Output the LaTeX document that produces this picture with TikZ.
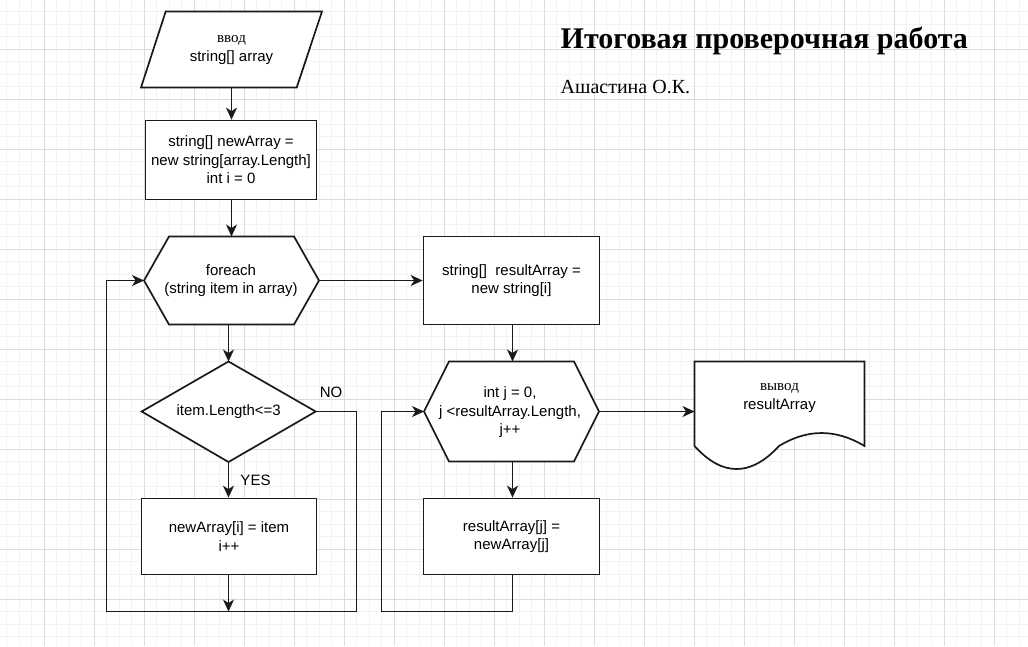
\documentclass[tikz,border=0pt]{standalone}
\usepackage{fontspec}
\setmainfont{Liberation Serif}
\newfontfamily\arialf{Liberation Sans}
\usetikzlibrary{arrows.meta}
\definecolor{gridminor}{HTML}{F2F2F2}
\definecolor{gridmajor}{HTML}{DCDCDC}
\definecolor{strokec}{HTML}{1A1A1A}
\begin{document}
\begin{tikzpicture}[x=1pt,y=-1pt,
  shapeline/.style={draw=strokec, line width=1.7pt, fill=white},
  box/.style={shapeline, rectangle, inner sep=0pt, align=center, font=\arialf\fontsize{15}{18.5}\selectfont},
  txt/.style={inner sep=0pt, align=center, font=\arialf\fontsize{15}{18.5}\selectfont},
  conn/.style={draw=strokec, line width=1.6pt, -{Stealth[length=12pt,width=11pt,inset=3.5pt]}},
  plainline/.style={draw=strokec, line width=1.6pt}]
\useasboundingbox (0,0) rectangle (1028,646);
\fill[white] (0,0) rectangle (1028,646);
% grid
\foreach \k in {0,...,82} {\draw[gridminor, line width=1pt] ({6.7+12.5*\k},0) -- ({6.7+12.5*\k},646);}
\foreach \k in {0,...,51} {\draw[gridminor, line width=1pt] (0,{11.8+12.5*\k}) -- (1028,{11.8+12.5*\k});}
\foreach \k in {0,...,20} {\draw[gridmajor, line width=1pt] ({44.3+50*\k},0) -- ({44.3+50*\k},646);}
\foreach \k in {0,...,12} {\draw[gridmajor, line width=1pt] (0,{-0.7+50*\k}) -- (1028,{-0.7+50*\k});}

% input parallelogram
\draw[shapeline] (165.7,11.5) -- (322,11.5) -- (296.7,87.5) -- (141,87.5) -- cycle;
\coordinate (pinS) at (231.5,87.5);
\node[txt] (pintxt) at (231.5,50) {{\rmfamily\fontsize{15}{18.5}\selectfont ввод}\\ string[] array};

% rect 1
\node[box, minimum width=171pt, minimum height=79pt] (r1) at (231,160) {string[] newArray =\\new string[array.Length]\\int i = 0};

% hexagon 1
\draw[shapeline] (144,280.5) -- (169,236.5) -- (294,236.5) -- (319,280.5) -- (294,324.5) -- (169,324.5) -- cycle;
\coordinate (h1N) at (231.5,236.5);
\coordinate (h1S) at (228.5,324.5);
\coordinate (h1W) at (144,280.5);
\coordinate (h1E) at (319,280.5);
\node[txt] (h1txt) at (231,280.5) {foreach\\(string item in array)};

% rect 2
\node[box, minimum width=176pt, minimum height=88pt] (r2) at (511.5,280.5) {string[]\ \ resultArray =\\new string[i]};

% diamond
\draw[shapeline] (141.7,411.5) -- (228.5,361.5) -- (315.7,411.5) -- (228.5,462) -- cycle;
\coordinate (dN) at (228.5,361.5);
\coordinate (dS) at (228.5,462);
\coordinate (dE) at (315.7,411.5);
\node[txt] (dtxt) at (228.7,412) {item.Length<=3};

% rect 3
\node[box, minimum width=175pt, minimum height=76pt] (r3) at (229,536.5) {newArray[i] = item\\i++};

% hexagon 2
\draw[shapeline] (424,411.5) -- (449,361.5) -- (574,361.5) -- (599,411.5) -- (574,461.5) -- (449,461.5) -- cycle;
\coordinate (h2N) at (512.5,361.5);
\coordinate (h2S) at (512.5,461.5);
\coordinate (h2W) at (424,411.5);
\coordinate (h2E) at (599,411.5);
\node[txt] (h2txt) at (510,412.5) {int j = 0,\\j <resultArray.Length,\\j++};

% rect 4
\node[box, minimum width=176pt, minimum height=76pt] (r4) at (511.5,536.5) {resultArray[j] =\\newArray[j]};

% document
\draw[shapeline] (694.5,361.5) -- (864.5,361.5) -- (864.5,446) .. controls (835.7,428.7) and (807.3,428.7) .. (779,446) .. controls (750.7,476.7) and (722.3,476.7) .. (694.5,446) -- cycle;
\coordinate (docW) at (694.5,411.5);
\node[txt] (doctxt) at (779.5,398) {{\rmfamily\fontsize{15}{18.5}\selectfont вывод}\\ resultArray};

% title
\node[inner sep=0pt, anchor=base west, font=\rmfamily\bfseries\fontsize{30}{36}\selectfont] (title) at (560.5,48) {Итоговая проверочная работа};
\node[inner sep=0pt, anchor=base west, font=\rmfamily\fontsize{20}{24}\selectfont] (author) at (560.5,93.3) {Ашастина О.К.};

% coordinates for loops
\coordinate (c1) at (356.5,411.5);
\coordinate (c2) at (356.5,611.5);
\coordinate (c3) at (106.5,611.5);
\coordinate (c4) at (106.5,280.5);
\coordinate (c5) at (228.5,611.5);
\coordinate (c6) at (512.5,611.5);
\coordinate (c7) at (381.5,611.5);
\coordinate (c8) at (381.5,411.5);

% connectors
\draw[conn] (pinS) -- (r1.north -| pinS);
\draw[conn] (r1.south -| h1N) -- (h1N);
\draw[conn] (h1S) -- (dN);
\draw[conn] (h1E) -- (r2.west);
\draw[conn] (dS) -- (r3.north -| dS);
\draw[conn] (r3.south -| c5) -- (c5);
\draw[conn] (dE) -- (c1) -- (c2) -- (c3) -- (c4) -- (h1W);
\draw[conn] (r2.south -| h2N) -- (h2N);
\draw[conn] (h2E) -- (docW);
\draw[conn] (h2S) -- (r4.north -| h2S);
\draw[conn] (r4.south -| c6) -- (c6) -- (c7) -- (c8) -- (h2W);

% labels
\node[txt] (nolbl) at (331,392.5) {NO};
\node[txt] (yeslbl) at (255.5,480) {YES};
\end{tikzpicture}
\end{document}
